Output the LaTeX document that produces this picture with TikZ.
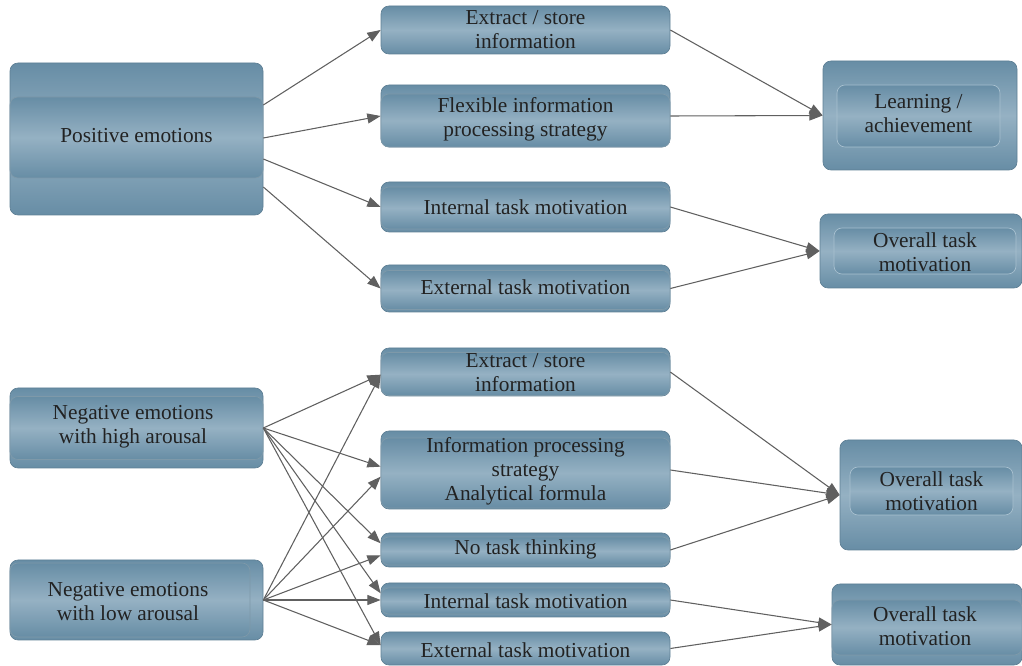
\documentclass[tikz,border=0pt]{standalone}
\usepackage{fontspec}
\setmainfont{Liberation Serif}
\usetikzlibrary{arrows.meta}
\definecolor{bxdark}{HTML}{678DA5}
\definecolor{bxlight}{HTML}{95B1C3}
\definecolor{bxedge}{HTML}{5E7F94}
\definecolor{bxrim}{HTML}{A9C1D0}
\definecolor{ink}{HTML}{222222}
\definecolor{linec}{HTML}{606060}
\tikzset{
  sz/.style 2 args={minimum width=#1*0.75pt, minimum height=#2*0.75pt},
  panel/.style={rounded corners=6pt, top color=bxdark, bottom color=bxdark,
    middle color=bxlight, draw=bxedge, line width=0.5pt, inner sep=0pt},
  inset/.style={panel, draw=bxedge!80!white},
  rim/.style={panel, draw=bxrim},
  txt/.style={text=ink, align=center, inner sep=0pt,
    font=\fontsize{16}{18}\selectfont},
  conn/.style={draw=linec, line width=0.8pt,
    -{Triangle[length=10pt,width=7.5pt]}},
}
\begin{document}
\begin{tikzpicture}[x=0.75pt, y=-0.75pt]
\useasboundingbox (0,0) rectangle (1022,666);

% ---------- upper part: positive emotions ----------
\node[panel, sz={253}{152}] (pe) at (136.5,139) {};
\node[inset, sz={253}{81}] (pei) at (136.5,137.5) {};
\node[txt] (pet) at (136.5,136) {Positive emotions};

\node[panel, sz={289}{48}] (es1) at (525.5,30) {};
\node[txt] (es1t) at (525.5,30) {Extract / store\\information};

\node[panel, sz={289}{62}] (fl) at (525.5,116) {};
\node[inset, sz={289}{53}] (fli) at (525.5,120.5) {};
\node[txt] (flt) at (525.5,119) {Flexible information\\processing strategy};

\node[panel, sz={289}{50}] (it1) at (525.5,207) {};
\node[inset, sz={289}{42}] (it1i) at (525.5,208) {};
\node[txt] (it1t) at (525.5,207) {Internal task motivation};

\node[panel, sz={289}{47}] (et1) at (525.5,288.5) {};
\node[inset, sz={289}{39}] (et1i) at (525.5,290) {};
\node[txt] (et1t) at (525.5,287) {External task motivation};

\node[panel, sz={194}{109}] (la) at (920,115.5) {};
\node[rim, sz={163}{62}] (lai) at (918.5,116) {};
\node[txt] (lat) at (918.5,114) {Learning /\\achievement};

\node[panel, sz={202}{74}] (ot1) at (921,251) {};
\node[rim, sz={182}{46}] (ot1i) at (925,251) {};
\node[txt] (ot1t) at (925,252) {Overall task\\motivation};

% ---------- lower part: negative emotions ----------
\node[panel, sz={253}{80}] (nh) at (136.5,428) {};
\node[inset, sz={253}{63}] (nhi) at (136.5,428) {};
\node[txt] (nht) at (133,427) {Negative emotions\\with high arousal};

\node[panel, sz={253}{80}] (nl) at (136.5,600) {};
\node[inset, sz={240}{74}] (nli) at (130,600) {};
\node[txt] (nlt) at (128,602) {Negative emotions\\with low arousal};

\node[panel, sz={289}{48}] (es2) at (525.5,372) {};
\node[inset, sz={289}{43}] (es2i) at (525.5,374) {};
\node[txt] (es2t) at (525.5,373) {Extract / store\\information};

\node[panel, sz={289}{78}] (ip) at (525.5,470) {};
\node[inset, sz={289}{70}] (ipi) at (525.5,473) {};
\node[txt] (ipt) at (525.5,471) {Information processing\\strategy\\Analytical formula};

\node[panel, sz={289}{34}] (nt) at (525.5,550) {};
\node[inset, sz={289}{28}] (nti) at (525.5,551) {};
\node[txt] (ntt) at (525.5,549) {No task thinking};

\node[panel, sz={289}{34}] (it2) at (525.5,600) {};
\node[inset, sz={289}{26}] (it2i) at (525.5,601) {};
\node[txt] (it2t) at (525.5,601) {Internal task motivation};

\node[panel, sz={289}{33}] (et2) at (525.5,648.5) {};
\node[txt] (et2t) at (525.5,650) {External task motivation};

\node[panel, sz={182}{110}] (ob1) at (931,495) {};
\node[rim, sz={163}{48}] (ob1i) at (931.5,491) {};
\node[txt] (ob1t) at (931.5,491) {Overall task\\motivation};

\node[panel, sz={190}{81}] (ob2) at (927,624.5) {};
\node[inset, sz={190}{55}] (ob2i) at (927,627.5) {};
\node[txt] (ob2t) at (925,626) {Overall task\\motivation};

% ---------- connectors, upper part ----------
\draw[conn] ([yshift=25.5pt]pe.east) -- (es1.west);
\draw[conn] ([yshift=0.75pt]pe.east) -- (fl.west);
\draw[conn] ([yshift=-15pt]pe.east) -- (it1.west);
\draw[conn] ([yshift=-36pt]pe.east) -- (et1.west);
\draw[conn] (es1.east) -- (la.west);
\draw[conn] (fl.east) -- (la.west);
\draw[conn] (it1.east) -- (ot1.west);
\draw[conn] (et1.east) -- (ot1.west);

% ---------- connectors, lower part ----------
\draw[conn] (nh.east) -- ([yshift=-2pt]es2.west);
\draw[conn] (nh.east) -- ([yshift=2.5pt]ip.west);
\draw[conn] (nh.east) -- ([yshift=5pt]nt.west);
\draw[conn] (nh.east) -- ([yshift=5pt]it2.west);
\draw[conn] (nh.east) -- ([yshift=2.5pt]et2.west);
\draw[conn] (nl.east) -- ([yshift=-2pt]es2.west);
\draw[conn] (nl.east) -- ([yshift=-5pt]ip.west);
\draw[conn] (nl.east) -- ([yshift=-4pt]nt.west);
\draw[conn] (nl.east) -- (it2.west);
\draw[conn] (nl.east) -- ([yshift=2.5pt]et2.west);
\draw[conn] (es2.east) -- (ob1.west);
\draw[conn] (ip.east) -- (ob1.west);
\draw[conn] (nt.east) -- (ob1.west);
\draw[conn] (it2.east) -- (ob2.west);
\draw[conn] (et2.east) -- (ob2.west);
\end{tikzpicture}
\end{document}
